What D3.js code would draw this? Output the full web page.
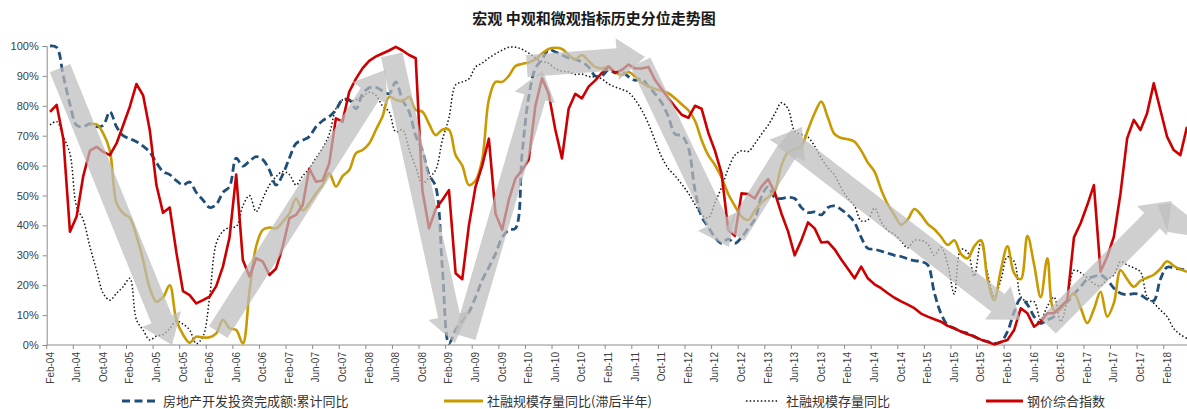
<!DOCTYPE html>
<html><head><meta charset="utf-8">
<script src="https://cdn.jsdelivr.net/npm/d3@7"></script>
<style>
body{margin:0;background:#fff;}
svg{display:block;font-family:"Liberation Sans",Arial,"Noto Sans CJK SC",sans-serif;}
</style>
</head><body>
<svg id="chart" width="1187" height="409"></svg>
<script>
// ---------- DATA (monthly, Feb-04 .. May-18) ----------
const tickLabels = ["Feb-04","Jun-04","Oct-04","Feb-05","Jun-05","Oct-05","Feb-06","Jun-06","Oct-06",
  "Feb-07","Jun-07","Oct-07","Feb-08","Jun-08","Oct-08","Feb-09","Jun-09","Oct-09","Feb-10","Jun-10",
  "Oct-10","Feb-11","Jun-11","Oct-11","Feb-12","Jun-12","Oct-12","Feb-13","Jun-13","Oct-13","Feb-14",
  "Jun-14","Oct-14","Feb-15","Jun-15","Oct-15","Feb-16","Jun-16","Oct-16","Feb-17","Jun-17","Oct-17","Feb-18"];
const yTicks = [0,10,20,30,40,50,60,70,80,90,100];

const seriesNames = ["房地产开发投资完成额:累计同比","社融规模存量同比(滞后半年)","社融规模存量同比","钢价综合指数"];

const realEstate = [100,99.5,90,80.5,73.5,73,74,73,73.5,78,
73,70,69,68,66.5,64.5,61,58,57,55,
53.5,54.5,51,48.5,46,47,51,53,62.5,59.8,
61.5,63,62,58.5,53.5,57,62.5,67.4,68.5,69.7,
73,75,76.4,78.6,82,82,79,84,86,86.2,
85,84,88,82,78,70,65,57,53,26,
0.5,5,8,11,16,21.7,26,30.5,36,38.5,
39,64,83,92.5,95.5,98.7,98,97,96,95.5,
94.6,93,90,90,92,91,91.4,89.7,88.5,89,
86.5,84,81,76.4,70.5,70,66,51.8,43,39.5,
36,34,35.5,34,36,39,42,49.6,53,49.3,
49,49.4,49,46,44.3,44.5,43.5,46,46.5,45.3,
43.5,41,36,32.3,32,31.4,30.7,30,29.6,28.8,
28.2,27.9,26.8,17.5,10.5,6.7,5.6,4.5,3.9,2.8,
1.7,1.1,0.5,1,4.5,11,15.5,13.5,9.5,7.2,
8.4,9.5,12.8,14.5,17,19.5,22,22.9,23.4,21.8,
19,17.3,16.8,17.2,16.8,15.3,14.8,22,26,25.8,
25.4,25];

const tsfLagged = [null,null,null,null,null,null,73.6,73.8,70.8,65,
47.5,44,42.5,36.5,28.4,19,14.5,16,20,8.4,
3.5,0.8,2.8,2.5,2.6,3.9,8.4,5.6,5,0.5,
18,33,38.5,39.3,39,41.2,44,49,45,47.4,
50.7,53.5,57.4,53,56.5,58.5,64.1,65.2,67.4,71.9,
76.4,83,82,81.5,83,78.6,78,74,70.2,72,
72,63.5,60,53.5,55,62,82,88,88,90,
93.3,94,94.5,95.5,97.5,99,99.4,99,97,95.5,
97,95,93,92.5,93,91.2,90.4,91.3,89.8,87.7,
86.5,85.6,85,84.2,82.5,80.5,78.5,75,68.5,63.5,
60.2,56,50.5,46.5,43,41.8,45,47.6,49.5,51.5,
60,64.5,65.5,66.5,72,77.5,81.4,76,70.5,69.2,
68.8,68,65,61,58,52,47,43.5,40.2,42,
45.5,43.5,40.5,38.7,36.2,33.5,35,30.5,29,33,
35,22,15,25,33,24,22,36.5,27,16,
29,11.5,12,15,17.3,12.5,7.3,12,17.8,9.5,
14,25,22,19.5,21.5,22.5,23.5,25.5,28,26.5,
25.3,24.5];

const tsf = [73.6,74.7,69.7,64,46.3,41.8,32.9,25,17.3,15,
17.3,19.5,22.3,8.4,5,1.7,3,3.5,5.5,8,
7,5,0.5,2.8,16,34,38,39.3,39.6,46.5,
50,44.6,49,53.5,56.3,58,57,53.5,56.5,59,
62.5,65.8,70.5,79,82,81.5,82,83,84.5,83.5,
80,78,71.3,72,65.5,59.5,54,56,58.5,68.5,
76,87,88,89,93,94.3,96,97.4,98.6,99.6,
99.6,98.9,97.6,96,94.8,94.2,92.4,91.6,91.3,90.5,
90.6,89.8,89.7,89,87.3,86.3,85.5,84.5,82,78.5,
74,68.3,62.8,59,56.6,53.8,50.8,47,43.5,42.5,
47.6,52.7,58.9,63.5,65,64.7,67.3,70.5,73.5,77.3,
81,79,71.5,70.4,69.5,66.5,62.5,59.2,56.8,52.5,
49,46.5,41.5,41.8,45.8,41.2,38.3,37,34.7,32.5,
35,35,33.8,30,32.6,27,17,32,31,23,
34.5,24,16.2,21.7,29.5,28,16.2,14.5,14.5,8.4,
13,16,7.8,15,25,24.2,22.5,20.5,19.8,22,
23.4,27.9,26.8,25.8,24.5,16.2,14,11.7,9.5,5.5,
3.5,2.2];

const steel = [78,80.3,69,37.9,43,56.5,65,66.3,64.6,63.5,
67.4,73.5,79.7,87.3,83.5,71.9,53.5,44.2,46,31,
18,16.7,13.9,15,16.2,19.7,26.2,36,57,28.4,
22.9,29,27.9,23.4,25.6,32.9,42.4,43.5,46.8,59,
54.6,55,60.8,75.8,74.7,84.7,89,92.5,95,96.5,
97.5,98.5,99.7,98.5,97,95.9,51.8,39,45.5,48.5,
51.8,24,22,40,53,60,69,44,38.5,48.5,
55.7,58.5,62,80,89.2,84,72,62.4,79,84,
82.5,86.4,88.5,91,93.2,91,92,93.8,92.5,92.5,
93,88.6,85.5,82.5,79.7,77,76,80,79,71,
65,57.4,38.5,36.5,50.7,50.5,49,53,55.5,51,
44,38,30,35,41,39,34.3,34.5,32,28.6,
25.5,22.3,26.2,22.3,20.3,19,17.3,15.8,14.6,13.5,
12.3,10.5,9.5,8.6,7.8,6.4,5.6,4.5,3.6,2.9,
1.8,1.1,0.2,1,1.7,5,12.3,10.6,6.1,7.8,
10.6,10.6,12.8,15,36,40.7,46.8,53.5,24.5,29.5,
36.2,50.7,69.1,75.3,71.9,77.5,87.5,78.6,69.7,65.2,
63.5,73];

// trend arrows: [monthOffset, value] tail -> tip
const arrowTails = [[2.0,92.6],[25.8,4.3],[51.9,97],[62.9,2.7],[72.2,93.3],[89.3,94.6],[103.5,36.8],[111.0,69.2],[150.6,6.4]];
const arrowTips  = [[18.85,0],[50.9,92],[61.4,0.7],[74.6,91.8],[90.0,96.3],[102.6,32.8],[113.6,72.9],[146.4,8.4],[169.2,48.2]];
const edgeShape = [[167.1,46.8],[169.2,47.5],[171.5,43.5],[171.5,36.8],[168.6,37.8]];

// ---------- CHART ----------
const svg = d3.select("#chart");
const x = d3.scaleLinear().domain([0,171.5]).range([46.7,1187]);
const y = d3.scaleLinear().domain([0,100]).range([345,46]);
const xPt = i => x(i + 0.5);

// title
svg.append("text").attr("x",594).attr("y",24).attr("text-anchor","middle")
  .attr("font-family","'Noto Sans CJK SC',sans-serif").attr("font-weight","bold")
  .attr("font-size",15).attr("fill","#1a1a1a").text("宏观 中观和微观指标历史分位走势图");

// axes
const yAxis = svg.append("g").attr("transform",`translate(${x(0)},0)`)
  .call(d3.axisLeft(y).tickValues(yTicks).tickSize(4).tickFormat(d=>d+"%"));
yAxis.select(".domain").attr("stroke","#8c8c8c");
yAxis.selectAll(".tick line").attr("stroke","#8c8c8c");
yAxis.selectAll("text").attr("font-size",11).attr("fill","#404040")
  .attr("font-family","'Liberation Sans',Arial,sans-serif").attr("x",-8);

const xAxisG = svg.append("g");
xAxisG.append("line").attr("x1",x(0)).attr("x2",x(171.5)).attr("y1",y(0)).attr("y2",y(0)).attr("stroke","#8c8c8c");
tickLabels.forEach((lab,j)=>{
  const m = j*4;
  xAxisG.append("line").attr("x1",x(m)).attr("x2",x(m)).attr("y1",y(0)).attr("y2",y(0)+4).attr("stroke","#8c8c8c");
  xAxisG.append("text").attr("transform",`translate(${x(m+0.5)},${y(0)+7}) rotate(-90)`)
    .attr("dy","0.35em").attr("text-anchor","end").attr("font-size",10).attr("fill","#404040")
    .attr("font-family","'Liberation Sans',Arial,sans-serif").text(lab);
});

// lines
const smooth = d3.line().defined(d=>d!=null).x((d,i)=>xPt(i)).y(d=>y(d)).curve(d3.curveCatmullRom.alpha(0.5));
const straight = d3.line().defined(d=>d!=null).x((d,i)=>xPt(i)).y(d=>y(d));
const plot = svg.append("g");
plot.append("path").datum(tsf).attr("d",smooth).attr("fill","none").attr("stroke","#111")
  .attr("stroke-width",1.5).attr("stroke-dasharray","1.5,2.2");
plot.append("path").datum(realEstate).attr("d",smooth).attr("fill","none").attr("stroke","#1F4E79")
  .attr("stroke-width",2.8).attr("stroke-dasharray","8,4");
plot.append("path").datum(tsfLagged).attr("d",smooth).attr("fill","none").attr("stroke","#C99A00")
  .attr("stroke-width",2.6);
plot.append("path").datum(steel).attr("d",straight).attr("fill","none").attr("stroke","#CC0000")
  .attr("stroke-width",2.6).attr("stroke-linejoin","round");

// arrows
const arrowG = svg.append("g").attr("fill","#BDBDBD").attr("fill-opacity",0.72);
arrowTails.forEach((t,i)=>{
  const p0 = [x(t[0]), y(t[1])], p1 = [x(arrowTips[i][0]), y(arrowTips[i][1])];
  const dx = p1[0]-p0[0], dy = p1[1]-p0[1], L = Math.hypot(dx,dy);
  const u = [dx/L, dy/L], n = [-u[1], u[0]];
  const w = 11, hw = 21, hl = 28;
  const nk = [p1[0]-u[0]*hl, p1[1]-u[1]*hl];
  const pts = [
    [p0[0]+n[0]*w, p0[1]+n[1]*w],
    [nk[0]+n[0]*w, nk[1]+n[1]*w],
    [nk[0]+n[0]*hw, nk[1]+n[1]*hw],
    p1,
    [nk[0]-n[0]*hw, nk[1]-n[1]*hw],
    [nk[0]-n[0]*w, nk[1]-n[1]*w],
    [p0[0]-n[0]*w, p0[1]-n[1]*w]
  ];
  arrowG.append("path").attr("d","M"+pts.map(p=>p.join(",")).join("L")+"Z");
});
arrowG.append("path").attr("d", d3.line().x(d=>x(d[0])).y(d=>y(d[1]))(edgeShape)+"Z");

// legend
const lg = svg.append("g").attr("font-family","'Noto Sans CJK SC',sans-serif").attr("font-size",13).attr("fill","#333");
const ly = 401;
lg.append("line").attr("x1",122).attr("x2",155).attr("y1",ly).attr("y2",ly).attr("stroke","#1F4E79").attr("stroke-width",3).attr("stroke-dasharray","8,4.5");
lg.append("text").attr("x",163).attr("y",ly).attr("dy","0.36em").text(seriesNames[0]);
lg.append("line").attr("x1",444).attr("x2",483).attr("y1",ly).attr("y2",ly).attr("stroke","#C99A00").attr("stroke-width",3);
lg.append("text").attr("x",487).attr("y",ly).attr("dy","0.36em").text(seriesNames[1]);
lg.append("line").attr("x1",746).attr("x2",778).attr("y1",ly).attr("y2",ly).attr("stroke","#111").attr("stroke-width",1.6).attr("stroke-dasharray","1.5,2.2");
lg.append("text").attr("x",786).attr("y",ly).attr("dy","0.36em").text(seriesNames[2]);
lg.append("line").attr("x1",986).attr("x2",1023).attr("y1",ly).attr("y2",ly).attr("stroke","#CC0000").attr("stroke-width",3);
lg.append("text").attr("x",1027).attr("y",ly).attr("dy","0.36em").text(seriesNames[3]);
</script>
</body></html>
